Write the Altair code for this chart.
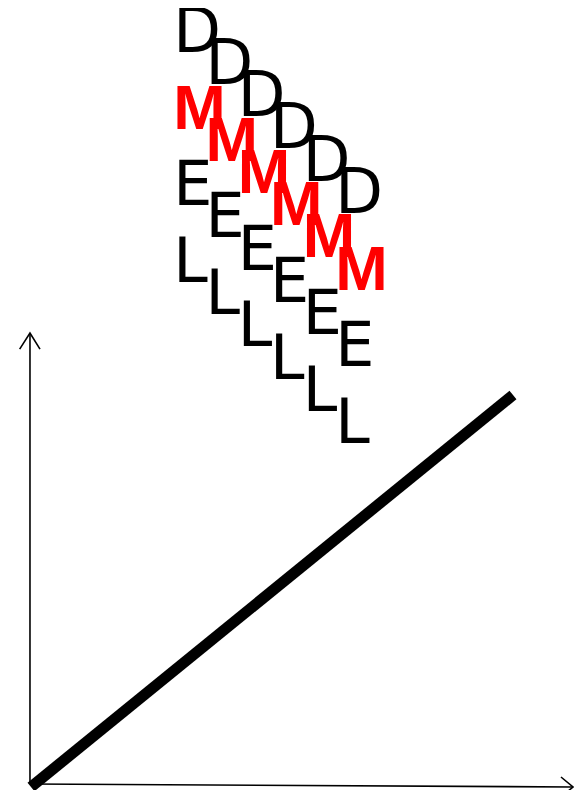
import altair as alt
import pandas as pd

# ---- data ----
letters = ["D", "M", "E", "L"]
letter_colors = ["black", "red", "black", "black"]
row_drop = [0.0, 0.196, 0.391, 0.587]
col_x = [0.295, 0.362, 0.429, 0.496, 0.564, 0.631]
col_y = [1.875, 1.793, 1.711, 1.629, 1.547, 1.464]

line_x = [0.0, 1.0]
line_y = [0.0, 1.0]

# axis paths (data units): y axis, x axis and arrowheads
yaxis_x = [-0.0021, -0.0021]
yaxis_y = [0.0077, 1.158]
yarrow_x = [-0.0235, -0.0021, 0.0187]
yarrow_y = [1.117, 1.158, 1.117]
xaxis_x = [-0.0021, 1.1245]
xaxis_y = [0.0077, 0.0]
xarrow_x = [1.0996, 1.1245, 1.0996]
xarrow_y = [0.0255, 0.0, -0.0255]

W, H = 566, 782
xs = alt.Scale(domain=[-0.0477, 1.1266], nice=False, zero=False)
ys = alt.Scale(domain=[-0.00765, 1.98724], nice=False, zero=False)

rows = []
for ci, (cx, cy) in enumerate(zip(col_x, col_y)):
    for li, (ch, col, dr) in enumerate(zip(letters, letter_colors, row_drop)):
        rows.append({"x": cx, "y": cy - dr, "t": ch, "c": col, "col": ci, "row": li})
txt = pd.DataFrame(rows)
reg = txt[txt.t != "M"]
bold = txt[txt.t == "M"]

def path(xv, yv, name):
    return pd.DataFrame({"x": xv, "y": yv, "o": list(range(len(xv))), "g": name})

paths = pd.concat([
    path(yaxis_x, yaxis_y, "ya"),
    path(yarrow_x, yarrow_y, "yh"),
    path(xaxis_x, xaxis_y, "xa"),
    path(xarrow_x, xarrow_y, "xh"),
])
thick = pd.DataFrame({"x": line_x, "y": line_y, "o": [0, 1]})

X = alt.X("x:Q", scale=xs, axis=None)
Y = alt.Y("y:Q", scale=ys, axis=None)

axes = alt.Chart(paths).mark_line(color="black", strokeWidth=1.6, strokeCap="butt").encode(
    x=X, y=Y, order="o:O", detail="g:N")
main = alt.Chart(thick).mark_line(color="black", strokeWidth=11, strokeCap="butt").encode(
    x=X, y=Y, order="o:O")

t_reg = alt.Chart(reg).mark_text(font="DejaVu Sans", fontSize=62, align="left",
                                  baseline="alphabetic").encode(
    x=X, y=Y, text="t:N", color=alt.Color("c:N", scale=None))
t_bold = alt.Chart(bold).mark_text(font="Liberation Sans", fontWeight="bold", fontSize=63,
                                   align="left", baseline="alphabetic").encode(
    x=X, y=Y, text="t:N", color=alt.Color("c:N", scale=None))

chart = alt.layer(axes, main, t_reg, t_bold).properties(
    width=W, height=H, padding=0, autosize=alt.AutoSizeParams(type="none")
).configure_view(stroke=None)

chart.save("out.html", embed_options={"renderer": "svg", "actions": False})
